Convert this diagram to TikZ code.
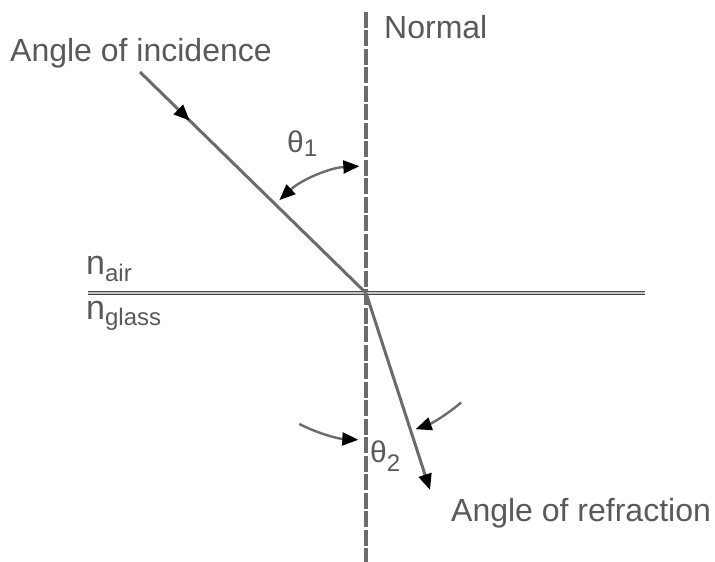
\documentclass[tikz,border=0pt]{standalone}
\usepackage{fontspec}
\setmainfont{Liberation Sans}
\usetikzlibrary{arrows.meta,calc,decorations.markings}
\definecolor{ink}{gray}{0.35}
\definecolor{ray}{gray}{0.42}
\begin{document}
\begin{tikzpicture}[
  x=1pt, y=1pt,
  label/.style={inner sep=0pt, text=ink, font=\fontsize{32}{36}\selectfont},
  head/.style={Triangle[length=16pt, width=13pt, color=black]},
  tip/.style={-{Triangle[length=16pt, width=13pt, color=black]}},
  beam/.style={ray, line width=3pt},
  angarc/.style={ray, line width=2.4pt},
  midarrow/.style={postaction={decorate}, decoration={markings,
    mark=at position #1 with {\arrow{Triangle[length=16pt, width=13pt, color=black]}}}},
]
  \useasboundingbox (0,0) rectangle (715,562);

  % point of incidence and ray ends
  \coordinate (O) at (366, 269);
  \coordinate (ntop) at (366, 550);
  \coordinate (nbot) at (366, 0);
  \coordinate (src) at (140, 490);
  \coordinate (dst) at (430, 72);
  \coordinate (sl) at (88, 269);
  \coordinate (sr) at (645, 269);

  % normal and surface
  \draw[ray, line width=3.5pt, dash pattern=on 16pt off 2.5pt] (ntop) -- (nbot);
  \draw[draw=gray!55!black, double=gray!45, line width=1.2pt, double distance=2.5pt] (sl) -- (sr);

  % rays
  \draw[beam, midarrow=0.22] (src) -- (O);
  \draw[beam, tip] (O) -- (dst);

  % angle arcs
  \coordinate (a1s) at ($(O)+(133:127)$);
  \coordinate (a2s) at ($(O)+(243:147)$);
  \coordinate (a3s) at ($(O)+(311:145)$);
  \draw[angarc, {Triangle[length=16pt, width=13pt, color=black]}-{Triangle[length=16pt, width=13pt, color=black]}]
    (a1s) arc[start angle=133, end angle=93, radius=127];
  \draw[angarc, tip] (a2s) arc[start angle=243, end angle=267, radius=147];
  \draw[angarc, tip] (a3s) arc[start angle=311, end angle=290, radius=145];

  % texts
  \node[label, anchor=base west] (inc) at (10, 500) {Angle of incidence};
  \node[label, anchor=base west] (nrm) at (384, 523) {Normal};
  \node[label, anchor=base west] (ref) at (451, 40) {Angle of refraction};
  \node[label, anchor=base west] (nair) at (86, 287)
    {{\fontsize{34}{34}\selectfont n}\raisebox{-7pt}{\fontsize{24}{24}\selectfont air}};
  \node[label, anchor=base west] (nglass) at (86, 242)
    {{\fontsize{34}{34}\selectfont n}\raisebox{-6pt}{\fontsize{24}{24}\selectfont glass}};
  \node[label, anchor=base west] (th1) at (287, 409)
    {{\fontsize{30}{30}\selectfont θ}\raisebox{-4pt}{\fontsize{24}{24}\selectfont 1}};
  \node[label, anchor=base west] (th2) at (370, 99)
    {{\fontsize{30}{30}\selectfont θ}\raisebox{-9pt}{\fontsize{24}{24}\selectfont 2}};
\end{tikzpicture}
\end{document}
